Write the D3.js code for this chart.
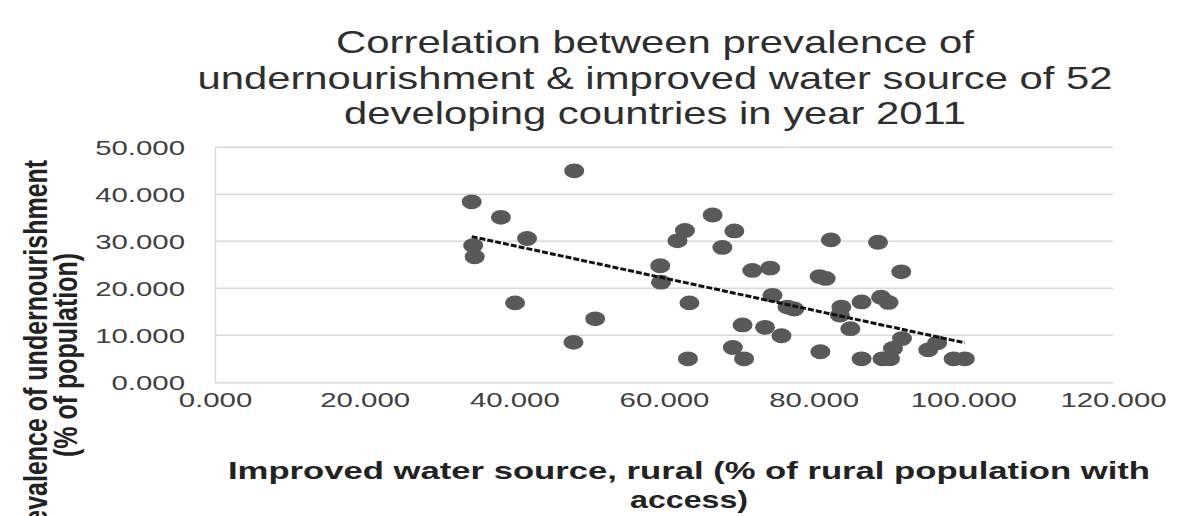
<!DOCTYPE html>
<html>
<head>
<meta charset="utf-8">
<script src="https://cdn.jsdelivr.net/npm/d3@7"></script>
<style>
  html, body { margin: 0; padding: 0; background: #fff; }
  svg { display: block; font-family: "Liberation Sans", Arial, sans-serif; }
</style>
</head>
<body>
<svg id="chart" width="1179" height="516"></svg>
<script>
// Improved rural water source (% of rural population with access)
const waterAccess = [
  48.0, 34.3, 38.2, 41.7, 34.5, 34.7, 40.1, 50.8, 47.9,
  66.5, 62.8, 61.8, 69.4, 67.8, 59.5, 59.6, 63.4, 63.2,
  71.8, 74.2, 74.5, 76.5, 77.4, 70.5, 73.5, 75.7, 69.2, 70.7,
  82.3, 80.8, 81.6, 80.9, 83.7, 83.5, 84.9, 86.4, 86.4,
  88.6, 89.0, 90.0, 91.7, 89.2, 90.2, 90.6, 91.8,
  95.3, 96.5, 98.7, 100.2
];
// Prevalence of undernourishment (% of population)
const undernourishment = [
  45.0, 38.4, 35.1, 30.6, 29.1, 26.7, 16.9, 13.5, 8.5,
  35.6, 32.3, 30.1, 32.2, 28.7, 24.8, 21.3, 16.9, 5.0,
  23.8, 24.3, 18.5, 16.0, 15.6, 12.2, 11.7, 9.9, 7.4, 5.0,
  30.3, 22.5, 22.1, 6.5, 16.0, 14.3, 11.4, 17.1, 5.0,
  29.8, 18.1, 17.0, 23.5, 5.0, 5.0, 7.2, 9.3,
  6.9, 8.4, 5.0, 5.0
];
// Linear trend line end points (x, y)
const trendX = [34.3, 100.2];
const trendY = [31.0, 8.4];

const xTicks = [0, 20, 40, 60, 80, 100, 120];
const yTicks = [0, 10, 20, 30, 40, 50];
const titleLines = [
  "Correlation between prevalence of",
  "undernourishment & improved water source of 52",
  "developing countries in year 2011"
];
const xTitleLines = ["Improved water source, rural (% of rural population with", "access)"];
const yTitleLines = ["Prevalence of undernourishment", "(% of population)"];

const points = waterAccess.map((x, i) => ({ x, y: undernourishment[i] }));

const svg = d3.select("#chart");
const SX = 1.4; // horizontal stretch of tick labels

const x = d3.scaleLinear().domain([0, 120]).range([215, 1113]);
const y = d3.scaleLinear().domain([0, 50]).range([382.3, 147.3]);

// gridlines
svg.append("g")
  .selectAll("line")
  .data(yTicks.filter(t => t > 0))
  .join("line")
  .attr("x1", x(0)).attr("x2", x(120))
  .attr("y1", d => y(d)).attr("y2", d => y(d))
  .attr("stroke", "#d9d9d9").attr("stroke-width", 1.4);

// axes
const fmt = d3.format(".3f");
const xAxis = svg.append("g")
  .attr("transform", `translate(0,${y(0)})`)
  .call(d3.axisBottom(x).tickValues(xTicks).tickFormat(fmt).tickSize(0));
xAxis.select(".domain").attr("stroke", "#d9d9d9").attr("stroke-width", 1.4);
xAxis.selectAll("text")
  .attr("y", 25).attr("dy", 0)
  .attr("transform", `scale(${SX},1)`)
  .attr("fill", "#404040").style("font-size", "21px");

const yAxis = svg.append("g")
  .attr("transform", `translate(${x(0)},0)`)
  .call(d3.axisLeft(y).tickValues(yTicks).tickFormat(fmt).tickSize(0));
yAxis.select(".domain").attr("stroke", "#d9d9d9").attr("stroke-width", 1.4);
yAxis.selectAll("text")
  .attr("x", -30 / SX).attr("dy", "0.36em")
  .attr("transform", `scale(${SX},1)`)
  .attr("fill", "#404040").style("font-size", "21px");

// markers
svg.append("g")
  .selectAll("ellipse")
  .data(points)
  .join("ellipse")
  .attr("cx", d => x(d.x)).attr("cy", d => y(d.y))
  .attr("rx", 10).attr("ry", 7.4)
  .attr("fill", "#595959");

// linear trend line
svg.append("line")
  .attr("x1", x(trendX[0])).attr("y1", y(trendY[0]))
  .attr("x2", x(trendX[1])).attr("y2", y(trendY[1]))
  .attr("stroke", "#111").attr("stroke-width", 3)
  .attr("stroke-dasharray", "6,2");

// chart title
const titleWidths = [638, 915, 622];
titleLines.forEach((t, i) => {
  svg.append("text")
    .attr("x", 655).attr("y", 53 + i * 35.5)
    .attr("text-anchor", "middle")
    .attr("textLength", titleWidths[i]).attr("lengthAdjust", "spacingAndGlyphs")
    .attr("fill", "#2e2e2e")
    .style("font-size", "32px")
    .text(t);
});

// horizontal axis title
const xTitleWidths = [922, 118];
xTitleLines.forEach((t, i) => {
  svg.append("text")
    .attr("x", 689).attr("y", 479 + i * 29)
    .attr("text-anchor", "middle")
    .attr("textLength", xTitleWidths[i]).attr("lengthAdjust", "spacingAndGlyphs")
    .attr("fill", "#222")
    .style("font-size", "24px").style("font-weight", "bold")
    .text(t);
});

// vertical axis title
yTitleLines.forEach((t, i) => {
  svg.append("text")
    .attr("transform", `translate(${47 + i * 30},355) scale(1.3,1) rotate(-90)`)
    .attr("text-anchor", "middle")
    .attr("fill", "#222")
    .style("font-size", "25px").style("font-weight", "bold")
    .text(t);
});
</script>
</body>
</html>
